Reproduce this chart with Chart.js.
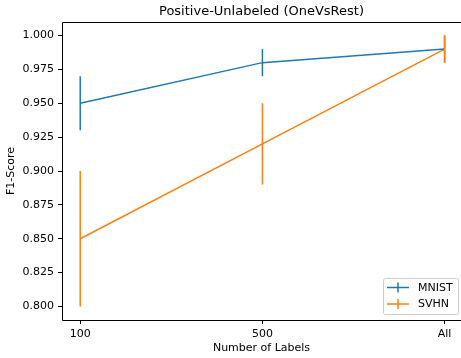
<!DOCTYPE html>
<html><head><meta charset="utf-8">
<script src="https://cdn.jsdelivr.net/npm/chart.js@4/dist/chart.umd.min.js"></script>
<style>html,body{margin:0;padding:0;background:#fff}#wrap{width:461px;height:358px}</style>
</head><body><div id="wrap"><canvas id="c" width="461" height="358"></canvas></div>
<script>
const categories = ["100", "500", "All"];
const mnistValues = [0.95, 0.98, 0.99];
const mnistErrors = [0.02, 0.01, 0.01];
const svhnValues = [0.85, 0.92, 0.99];
const svhnErrors = [0.05, 0.03, 0.01];
const yTicks = [0.800, 0.825, 0.850, 0.875, 0.900, 0.925, 0.950, 0.975, 1.000];

const FONT = "'DejaVu Sans', sans-serif";
const BLUE = '#1f77b4', ORANGE = '#ff7f0e';

function pts(vals){ return vals.map((v,i)=>({x:i,y:v})); }

const errPlugin = {
  id:'errbars',
  afterDatasetsDraw(chart){
    const ctx = chart.ctx, xs = chart.scales.x, ys = chart.scales.y;
    chart.data.datasets.forEach(ds=>{
      ctx.save();
      ctx.strokeStyle = ds.borderColor; ctx.lineWidth = 1.5;
      ds.data.forEach((p,i)=>{
        const e = ds.errors[i];
        const px = xs.getPixelForValue(p.x);
        ctx.beginPath();
        ctx.moveTo(px, ys.getPixelForValue(p.y - e));
        ctx.lineTo(px, ys.getPixelForValue(p.y + e));
        ctx.stroke();
      });
      ctx.restore();
    });
  },
  afterDraw(chart){
    const ctx = chart.ctx, a = chart.chartArea;
    ctx.save();
    ctx.strokeStyle = '#000'; ctx.lineWidth = 1;
    ctx.beginPath();
    const L = Math.round(a.left)+0.5, T = Math.round(a.top)+0.5, B = Math.round(a.bottom)+0.5;
    ctx.moveTo(chart.width, T); ctx.lineTo(L, T); ctx.lineTo(L, B); ctx.lineTo(chart.width, B);
    ctx.stroke();
    // legend
    const bx = 383, by = a.bottom - 42, bw = 75, bh = 36;
    ctx.fillStyle = 'rgba(255,255,255,0.8)';
    ctx.strokeStyle = '#cccccc';
    ctx.beginPath();
    if (ctx.roundRect) ctx.roundRect(bx+0.5, by+0.5, bw, bh, 2); else ctx.rect(bx+0.5,by+0.5,bw,bh);
    ctx.fill(); ctx.stroke();
    chart.data.datasets.forEach((ds,i)=>{
      const yy = by + 9.5 + i*16.5;
      ctx.strokeStyle = ds.borderColor; ctx.lineWidth = 1.5;
      ctx.beginPath();
      ctx.moveTo(bx+4, yy); ctx.lineTo(bx+26, yy);
      ctx.moveTo(bx+15, yy-5); ctx.lineTo(bx+15, yy+5);
      ctx.stroke();
      ctx.fillStyle = '#000'; ctx.font = '11px ' + FONT;
      ctx.textBaseline = 'middle'; ctx.textAlign = 'left';
      ctx.fillText(ds.label, bx+35, yy+0.5);
    });
    ctx.restore();
  }
};

new Chart(document.getElementById('c'), {
  type:'line',
  data:{datasets:[
    {label:'MNIST', data:pts(mnistValues), errors:mnistErrors, borderColor:BLUE, backgroundColor:BLUE, borderWidth:1.5, pointRadius:0, fill:false, tension:0},
    {label:'SVHN', data:pts(svhnValues), errors:svhnErrors, borderColor:ORANGE, backgroundColor:ORANGE, borderWidth:1.5, pointRadius:0, fill:false, tension:0}
  ]},
  options:{
    responsive:false, animation:false, devicePixelRatio:1,
    layout:{padding:{left:0,right:0,top:0,bottom:0}},
    plugins:{
      legend:{display:false}, tooltip:{enabled:false},
      title:{display:true, fullSize:false, text:'Positive-Unlabeled (OneVsRest)', color:'#000',
        font:{family:FONT, size:13, weight:'normal'}, padding:{top:4,bottom:2.4}}
    },
    scales:{
      x:{type:'linear', min:-0.1, max:2.09,
        afterBuildTicks(s){ s.ticks = categories.map((c,i)=>({value:i})); },
        afterFit(s){ s.height = 38; },
        ticks:{color:'#000', font:{family:FONT,size:11}, padding:4, maxRotation:0, autoSkip:false,
          callback:(v)=>categories[v]},
        grid:{drawOnChartArea:false, drawTicks:true, tickLength:4, color:'#000'},
        border:{display:false},
        title:{display:true, text:'Number of Labels', color:'#000', font:{family:FONT,size:11}, padding:{top:0,bottom:3.4}}
      },
      y:{type:'linear', min:0.79, max:1.01,
        afterBuildTicks(s){ s.ticks = yTicks.map(v=>({value:v})); },
        afterFit(s){ s.width = 62; },
        ticks:{color:'#000', font:{family:FONT,size:11}, padding:4, autoSkip:false,
          callback:(v)=>v.toFixed(3)},
        grid:{drawOnChartArea:false, drawTicks:true, tickLength:4, color:'#000'},
        border:{display:false},
        title:{display:true, text:'F1-Score', color:'#000', font:{family:FONT,size:11}, padding:{top:4.4,bottom:0}}
      }
    }
  },
  plugins:[errPlugin]
});
</script></body></html>
